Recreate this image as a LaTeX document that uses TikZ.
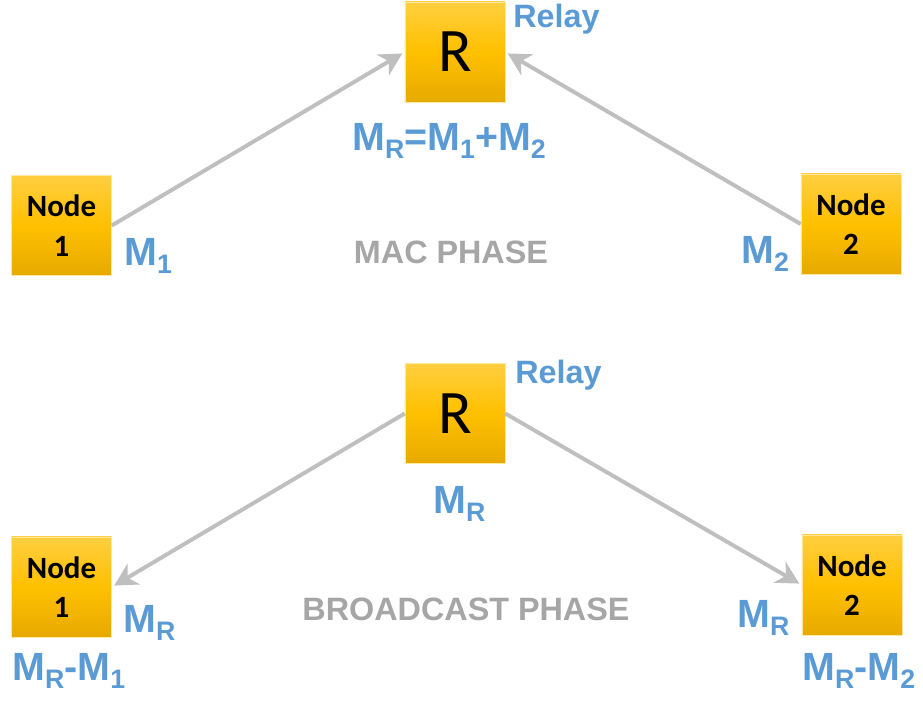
\documentclass[tikz,border=0pt]{standalone}
\usepackage{fontspec}
\setmainfont{Liberation Sans}
\newfontfamily\calfont{Carlito}
\usetikzlibrary{arrows.meta}
\definecolor{relayblue}{RGB}{91,155,213}
\definecolor{phasegray}{RGB}{166,166,166}
\definecolor{linkgray}{RGB}{191,191,191}
\definecolor{boxtop}{RGB}{255,207,64}
\definecolor{boxmid}{RGB}{255,192,0}
\definecolor{boxbot}{RGB}{230,170,0}
\newcommand{\msub}[1]{\raisebox{-0.22em}{\fontsize{19}{19}\selectfont #1}}
\tikzset{
  box/.style={rectangle, minimum size=2.5cm, inner sep=0pt, align=center,
    draw=boxtop!50!white, line width=0.4pt,
    top color=boxtop, bottom color=boxbot, middle color=boxmid},
  nodebox/.style={box, font=\calfont\bfseries\fontsize{22}{28}\selectfont},
  relaybox/.style={box, font=\calfont\fontsize{44}{44}\selectfont},
  link/.style={draw=linkgray, line width=2.8pt, shorten >=2pt,
    -{Stealth[length=16pt,width=17pt,inset=5pt]}},
  msg/.style={anchor=base west, inner sep=0pt, text=relayblue,
    font=\bfseries\fontsize{28}{28}\selectfont},
  sum/.style={msg, anchor=base},
  relay/.style={msg, font=\bfseries\fontsize{23}{23}\selectfont},
  phase/.style={anchor=base, inner sep=0pt, text=phasegray,
    font=\bfseries\fontsize{23}{23}\selectfont}
}
\begin{document}
\begin{tikzpicture}[x=0.025cm, y=-0.025cm]
  \useasboundingbox (0,0) rectangle (923,700);
  % MAC phase
  \node[relaybox] (R1) at (455,52) {R};
  \node[nodebox] (A1) at (61.5,225.5) {Node\\1};
  \node[nodebox] (B1) at (851,224) {Node\\2};
  \draw[link] (A1.east) -- (R1.west);
  \draw[link] (B1.west) -- (R1.east);
  \node[relay] (relay1) at (513,27) {Relay};
  \node[sum] (sum1) at (449,150) {M\msub{R}=M\msub{1}+M\msub{2}};
  \node[msg] (m1) at (124,265) {M\msub{1}};
  \node[msg] (m2) at (741,263) {M\msub{2}};
  \node[phase] (mac) at (451,263) {MAC PHASE};

  % broadcast phase
  \node[relaybox] (R2) at (455,413.5) {R};
  \node[nodebox] (A2) at (61.5,587) {Node\\1};
  \node[nodebox] (B2) at (852,585) {Node\\2};
  \draw[link] (R2.west) -- (A2.east);
  \draw[link] (R2.east) -- (B2.west);
  \node[relay] (relay2) at (515,383) {Relay};
  \node[msg] (mr) at (433,513) {M\msub{R}};
  \node[msg] (mra) at (123,632) {M\msub{R}};
  \node[msg] (mrb) at (737,627) {M\msub{R}};
  \node[msg] (da) at (12,680) {M\msub{R}-M\msub{1}};
  \node[msg] (db) at (802,680) {M\msub{R}-M\msub{2}};
  \node[phase] (bc) at (466,620) {BROADCAST PHASE};
\end{tikzpicture}
\end{document}
